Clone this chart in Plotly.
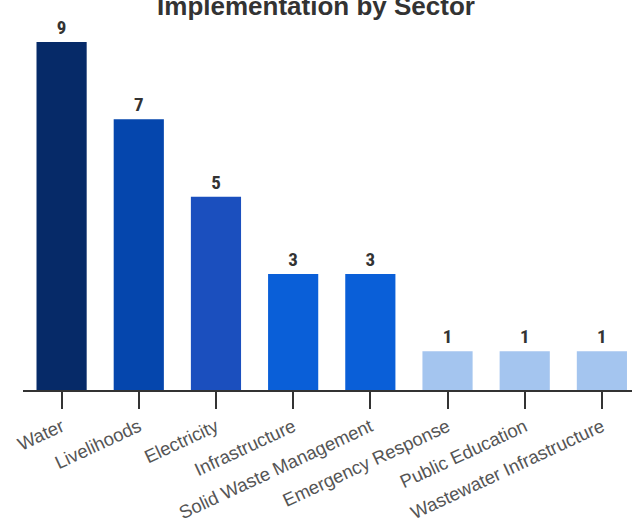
import plotly.graph_objects as go

sectors = ["Water", "Livelihoods", "Electricity", "Infrastructure",
           "Solid Waste Management", "Emergency Response", "Public Education",
           "Wastewater Infrastructure"]
counts = [9, 7, 5, 3, 3, 1, 1, 1]
bar_colors = ["#062a68", "#0546ad", "#1b4fbe", "#0a5fd8", "#0a5fd8",
              "#a4c5ef", "#a4c5ef", "#a4c5ef"]

fig = go.Figure(go.Bar(
    x=sectors, y=counts,
    marker=dict(color=bar_colors, line=dict(width=0)),
    width=0.65,
    text=[str(c) for c in counts],
    textposition="outside",
    cliponaxis=False,
    textfont=dict(family="Liberation Sans Narrow, Arial Narrow, Roboto Condensed, Roboto, sans-serif",
                  size=19, color="#333333", weight="bold"),
))

fig.update_layout(
    width=632, height=525,
    margin=dict(l=23, r=0, t=30, b=135, autoexpand=False),
    paper_bgcolor="white", plot_bgcolor="white",
    showlegend=False,
    title=dict(text="<b>Implementation by Sector</b>",
               font=dict(family="Liberation Sans, Arial, sans-serif", size=26, color="#333333"),
               x=0.5, xanchor="center", xref="container",
               y=1 - 5.7 / 525, yanchor="middle", yref="container"),
    xaxis=dict(range=[-0.5, 7.39], showgrid=False, zeroline=False, automargin=False,
               showline=True, linecolor="#333333", linewidth=2,
               ticks="outside", ticklen=17, tickwidth=2, tickcolor="#333333",
               tickangle=-25,
               tickfont=dict(family="Liberation Sans, Arial, sans-serif", size=18.5, color="#555555")),
    yaxis=dict(range=[0, 9.31], visible=False, showgrid=False, zeroline=False),
)

fig.write_html("out.html")
